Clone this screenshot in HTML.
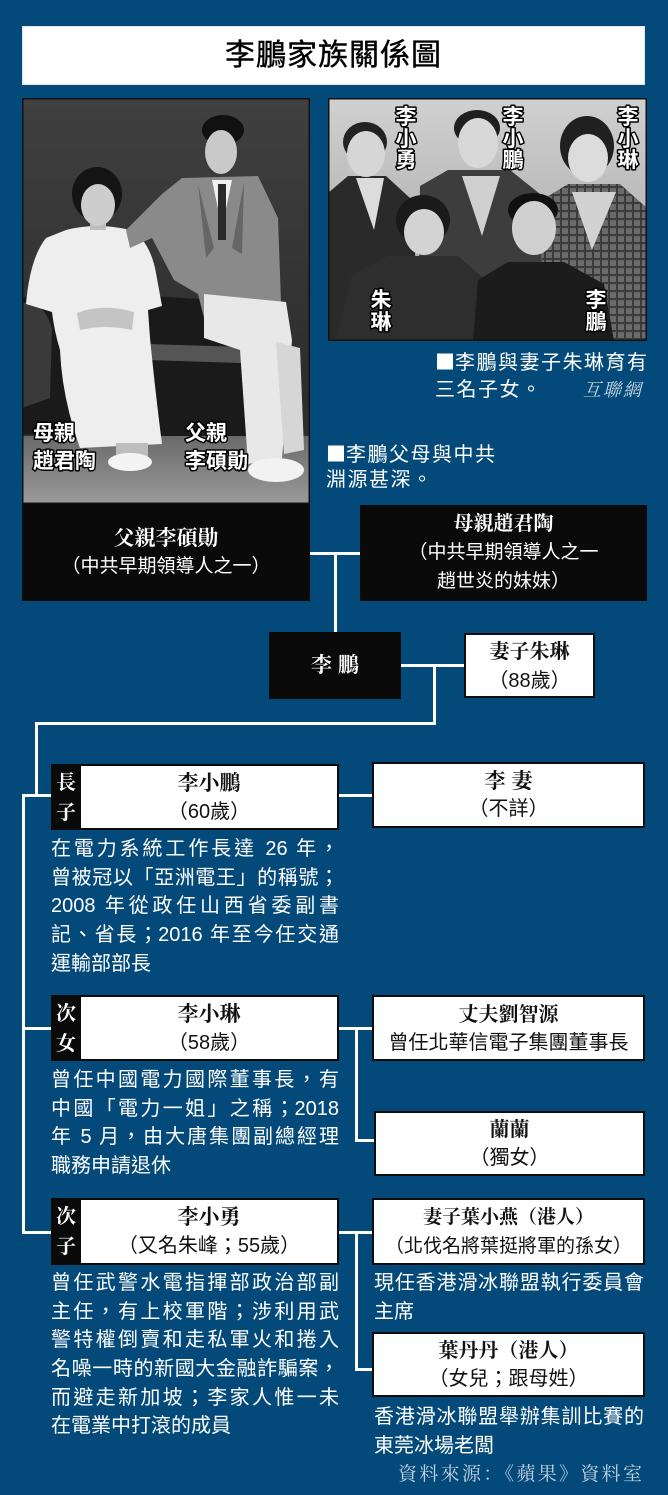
<!DOCTYPE html>
<html><head><meta charset="utf-8">
<style>
*{margin:0;padding:0;box-sizing:border-box;}
html,body{width:668px;height:1495px;background:#034a7b;overflow:hidden;}
#c{position:relative;width:668px;height:1495px;background:#034a7b;font-family:"Liberation Sans","Noto Sans CJK TC",sans-serif;}
.a{position:absolute;}
.ln{position:absolute;background:#fff;}
.sans{font-family:"Liberation Sans","Noto Sans CJK TC",sans-serif;}
.serif{font-family:"Liberation Serif","Noto Serif CJK SC",serif;font-weight:bold;}
.blk{position:absolute;background:#0a0a0a;}
.wbox{position:absolute;background:#fff;border:2px solid #0d0d0d;}
.t{position:absolute;left:0;right:0;text-align:center;white-space:nowrap;color:#111;}
.kid{position:absolute;background:#0a0a0a;}
.kid .inner{position:absolute;left:30px;top:2px;right:2px;bottom:2px;background:#fff;}
.kid .lab{position:absolute;left:0;width:30px;text-align:center;color:#fff;font-size:20px;line-height:22px;}
.desc{position:absolute;color:#fff;font-size:20px;line-height:28.7px;}
.desc div{text-align:justify;text-align-last:justify;height:28.7px;overflow:visible;}
.desc div.last{text-align:left;text-align-last:left;}
.cap{position:absolute;color:#fff;font-size:20px;line-height:28px;letter-spacing:1.5px;white-space:nowrap;}
.sq{font-family:"Noto Sans CJK TC",sans-serif;letter-spacing:0;}
</style></head><body><div id="c">

<div class="a" style="left:22px;top:26px;width:623px;height:59px;background:#fff;border:1px solid #dfe6ee;"></div>
<div class="a sans" style="left:22px;top:26px;width:623px;height:59px;line-height:59px;text-align:center;font-size:30px;color:#000;letter-spacing:1px;-webkit-text-stroke:0.4px #000;">李鵬家族關係圖</div>

<svg class="a" style="left:22px;top:98px;" width="288" height="406" viewBox="0 0 288 406">
<defs>
<linearGradient id="bgL" x1="0" y1="0" x2="0" y2="1"><stop offset="0" stop-color="#404040"/><stop offset="0.75" stop-color="#2c2c2c"/><stop offset="1" stop-color="#333"/></linearGradient>
<linearGradient id="flr" x1="0" y1="0" x2="0" y2="1"><stop offset="0" stop-color="#6a6a6a"/><stop offset="1" stop-color="#9a9a9a"/></linearGradient>
</defs>
<rect width="288" height="406" fill="url(#bgL)"/>
<rect x="0" y="338" width="288" height="68" fill="url(#flr)"/>
<path d="M0 200 Q40 186 95 196 L245 205 Q268 225 262 262 L252 338 L40 338 L0 336 Z" fill="#1a1a1a"/>
<path d="M125 246 L252 250 L250 266 L125 262 Z" fill="#555"/>
<path d="M0 205 Q20 200 30 230 L28 300 L0 310 Z" fill="#3a3a3a"/>
<path d="M44 132 Q75 124 108 132 Q128 142 134 175 L140 208 L126 212 L128 240 Q134 300 140 346 L58 350 Q40 300 38 252 Q32 232 30 214 L4 206 Q8 160 24 140 Z" fill="#eeeeee"/>
<path d="M55 215 Q80 205 112 214 L110 232 Q82 226 58 232 Z" fill="#c4c4c4"/>
<rect x="94" y="345" width="32" height="16" fill="#bdbdbd"/>
<ellipse cx="108" cy="364" rx="22" ry="9" fill="#f4f4f4"/>
<ellipse cx="75" cy="96" rx="25" ry="27" fill="#141414"/>
<rect x="68" y="118" width="16" height="14" fill="#bdbdbd"/>
<ellipse cx="76" cy="107" rx="17" ry="21" fill="#cdcdcd"/>
<path d="M160 80 L236 78 L256 120 L260 232 L240 242 L186 236 L176 196 L152 182 L130 140 L108 150 L104 132 L140 96 Z" fill="#8a8a8a"/>
<path d="M190 82 L200 130 L210 82 Z" fill="#f0f0f0"/>
<rect x="196" y="86" width="8" height="56" fill="#2a2a2a"/>
<path d="M176 86 L192 150 L184 160 Z" fill="#666"/>
<path d="M222 84 L210 150 L220 156 Z" fill="#666"/>
<path d="M182 196 L264 204 L270 242 L260 360 L226 366 L218 252 L182 240 Z" fill="#e8e8e8"/>
<path d="M254 244 L278 250 L282 352 L262 356 Z" fill="#d6d6d6"/>
<ellipse cx="254" cy="372" rx="28" ry="12" fill="#f2f2f2"/>
<ellipse cx="201" cy="32" rx="21" ry="15" fill="#111"/>
<ellipse cx="199" cy="54" rx="16" ry="22" fill="#c9c9c9"/>
<g font-family="Liberation Sans, Noto Sans CJK TC, sans-serif" font-size="21" font-weight="bold" fill="#fff" stroke="#000" stroke-width="3" style="paint-order:stroke" stroke-linejoin="round">
<text x="11" y="342">母親</text>
<text x="11" y="370">趙君陶</text>
<text x="163" y="342">父親</text>
<text x="163" y="370">李碩勛</text>
</g>
<rect x="0.5" y="0.5" width="287" height="405" fill="none" stroke="#111" stroke-width="2"/>
</svg>
<div class="blk" style="left:22px;top:504px;width:288px;height:97px;"></div>
<div class="a serif" style="left:22px;top:524px;width:288px;line-height:28px;text-align:center;font-size:21px;color:#fff;">父親李碩勛</div>
<div class="a sans" style="left:22px;top:553px;width:288px;line-height:28px;text-align:center;font-size:19px;color:#fff;">（中共早期領導人之一）</div>

<svg class="a" style="left:328px;top:98px;" width="319" height="243" viewBox="0 0 319 243">
<defs>
<linearGradient id="bgR" x1="0" y1="0" x2="0" y2="1"><stop offset="0" stop-color="#d0d0d0"/><stop offset="1" stop-color="#a0a0a0"/></linearGradient>
<pattern id="plaid" width="8" height="8" patternUnits="userSpaceOnUse"><rect width="8" height="8" fill="#6a6a6a"/><rect width="8" height="2" fill="#3a3a3a"/><rect width="2" height="8" fill="#3a3a3a"/></pattern>
</defs>
<rect width="319" height="243" fill="url(#bgR)"/>
<path d="M0 95 L20 78 L58 78 L82 100 L95 243 L0 243 Z" fill="#2a2a2a"/>
<path d="M28 80 L56 80 L46 132 Z" fill="#dcdcdc"/>
<ellipse cx="37" cy="44" rx="22" ry="20" fill="#222"/>
<ellipse cx="38" cy="56" rx="19" ry="23" fill="#d6d6d6"/>
<path d="M92 88 L120 72 L182 72 L212 96 L216 243 L90 243 Z" fill="#3d3d3d"/>
<path d="M134 78 L172 78 L154 138 Z" fill="#d0d0d0"/>
<ellipse cx="149" cy="30" rx="23" ry="18" fill="#1f1f1f"/>
<ellipse cx="150" cy="45" rx="20" ry="25" fill="#d8d8d8"/>
<path d="M214 102 L240 86 L292 86 L319 110 L319 243 L214 243 Z" fill="url(#plaid)"/>
<path d="M244 94 L288 94 L264 152 Z" fill="#d2d2d2"/>
<ellipse cx="259" cy="48" rx="27" ry="30" fill="#202020"/>
<ellipse cx="260" cy="60" rx="20" ry="24" fill="#dcdcdc"/>
<path d="M8 243 L24 176 L60 158 L130 158 L162 186 L168 243 Z" fill="#2e2e2e"/>
<ellipse cx="95" cy="122" rx="27" ry="25" fill="#1a1a1a"/>
<ellipse cx="96" cy="134" rx="20" ry="23" fill="#d3d3d3"/>
<path d="M145 243 L150 182 L180 164 L236 164 L276 186 L286 243 Z" fill="#1c1c1c"/>
<ellipse cx="205" cy="112" rx="25" ry="17" fill="#111"/>
<ellipse cx="206" cy="130" rx="22" ry="27" fill="#d0d0d0"/>
<g font-family="Liberation Sans, Noto Sans CJK TC, sans-serif" font-size="21" font-weight="bold" fill="#fff" stroke="#000" stroke-width="3" style="paint-order:stroke" stroke-linejoin="round" text-anchor="middle">
<text x="78" y="26">李</text><text x="78" y="48">小</text><text x="78" y="69">勇</text>
<text x="185" y="26">李</text><text x="185" y="48">小</text><text x="185" y="69">鵬</text>
<text x="300" y="26">李</text><text x="300" y="48">小</text><text x="300" y="69">琳</text>
<text x="53" y="209">朱</text><text x="53" y="231">琳</text>
<text x="268" y="209">李</text><text x="268" y="231">鵬</text>
</g>
<rect x="0.5" y="0.5" width="318" height="242" fill="none" stroke="#111" stroke-width="2"/>
</svg>

<div class="cap" style="left:435px;top:347px;"><span class="sq">■</span>李鵬與妻子朱琳育有</div>
<div class="cap" style="left:435px;top:376px;">三名子女。</div>
<div class="a" style="left:583px;top:377px;font-family:'Liberation Serif','Noto Serif CJK SC',serif;font-size:18px;line-height:26px;color:#c9d6e4;letter-spacing:2px;font-style:italic;">互聯網</div>
<div class="cap" style="left:326px;top:439px;"><span class="sq">■</span>李鵬父母與中共</div>
<div class="cap" style="left:326px;top:466px;">淵源甚深。</div>

<div class="blk" style="left:360px;top:505px;width:287px;height:96px;"></div>
<div class="a serif" style="left:360px;top:510px;width:287px;line-height:28px;text-align:center;font-size:20px;color:#fff;">母親趙君陶</div>
<div class="a sans" style="left:360px;top:539px;width:287px;line-height:28px;text-align:center;font-size:19px;color:#fff;">（中共早期領導人之一</div>
<div class="a sans" style="left:360px;top:568px;width:287px;line-height:28px;text-align:center;font-size:19px;color:#fff;">趙世炎的妹妹）</div>

<div class="ln" style="left:310px;top:552px;width:50px;height:3px;"></div>
<div class="ln" style="left:334px;top:552px;width:3px;height:80px;"></div>
<div class="ln" style="left:400px;top:664px;width:64px;height:3px;"></div>
<div class="ln" style="left:433px;top:664px;width:3px;height:61px;"></div>
<div class="ln" style="left:35px;top:722px;width:401px;height:3px;"></div>
<div class="ln" style="left:35px;top:722px;width:3px;height:75px;"></div>
<div class="ln" style="left:22px;top:794px;width:30px;height:3px;"></div>
<div class="ln" style="left:22px;top:794px;width:3px;height:440px;"></div>
<div class="ln" style="left:22px;top:1027px;width:30px;height:3px;"></div>
<div class="ln" style="left:22px;top:1231px;width:30px;height:3px;"></div>
<div class="ln" style="left:338px;top:794px;width:35px;height:3px;"></div>
<div class="ln" style="left:338px;top:1027px;width:35px;height:3px;"></div>
<div class="ln" style="left:355px;top:1027px;width:3px;height:115px;"></div>
<div class="ln" style="left:355px;top:1139px;width:20px;height:3px;"></div>
<div class="ln" style="left:338px;top:1231px;width:35px;height:3px;"></div>
<div class="ln" style="left:355px;top:1231px;width:3px;height:140px;"></div>
<div class="ln" style="left:355px;top:1368px;width:18px;height:3px;"></div>

<div class="blk" style="left:269px;top:632px;width:132px;height:67px;"></div>
<div class="a serif" style="left:269px;top:651px;width:132px;line-height:28px;text-align:center;font-size:21px;color:#fff;letter-spacing:6px;text-indent:6px;">李鵬</div>

<div class="wbox" style="left:464px;top:633px;width:131px;height:65px;">
<div class="t serif" style="top:3px;line-height:28px;font-size:20px;">妻子朱琳</div>
<div class="t sans" style="top:32px;line-height:28px;font-size:20px;">（88歲）</div>
</div>

<div class="kid" style="left:51px;top:764px;width:288px;height:66px;">
<div class="lab serif" style="top:8px;">長</div>
<div class="lab serif" style="top:38px;">子</div>
<div class="inner">
<div class="t serif" style="top:3px;line-height:28px;font-size:21px;">李小鵬</div>
<div class="t sans" style="top:32px;line-height:28px;font-size:20px;">（60歲）</div>
</div>
</div>
<div class="wbox" style="left:372px;top:762px;width:273px;height:66px;">
<div class="t serif" style="top:3px;line-height:28px;font-size:21px;letter-spacing:6px;text-indent:6px;">李妻</div>
<div class="t sans" style="top:31px;line-height:28px;font-size:20px;">（不詳）</div>
</div>
<div class="desc" style="left:51px;top:835px;width:288px;">
<div>在電力系統工作長達 26 年，</div>
<div>曾被冠以「亞洲電王」的稱號；</div>
<div>2008 年從政任山西省委副書</div>
<div>記、省長；2016 年至今任交通</div>
<div class="last">運輸部部長</div>
</div>

<div class="kid" style="left:51px;top:995px;width:288px;height:66px;">
<div class="lab serif" style="top:8px;">次</div>
<div class="lab serif" style="top:38px;">女</div>
<div class="inner">
<div class="t serif" style="top:3px;line-height:28px;font-size:21px;">李小琳</div>
<div class="t sans" style="top:32px;line-height:28px;font-size:20px;">（58歲）</div>
</div>
</div>
<div class="wbox" style="left:372px;top:995px;width:273px;height:66px;">
<div class="t serif" style="top:4px;line-height:28px;font-size:20px;">丈夫劉智源</div>
<div class="t sans" style="top:32px;line-height:28px;font-size:20px;">曾任北華信電子集團董事長</div>
</div>
<div class="wbox" style="left:374px;top:1111px;width:271px;height:65px;">
<div class="t serif" style="top:3px;line-height:28px;font-size:20px;">蘭蘭</div>
<div class="t sans" style="top:31px;line-height:28px;font-size:20px;">（獨女）</div>
</div>
<div class="desc" style="left:51px;top:1066px;width:288px;">
<div>曾任中國電力國際董事長，有</div>
<div>中國「電力一姐」之稱；2018</div>
<div>年 5 月，由大唐集團副總經理</div>
<div class="last">職務申請退休</div>
</div>

<div class="kid" style="left:51px;top:1198px;width:288px;height:67px;">
<div class="lab serif" style="top:8px;">次</div>
<div class="lab serif" style="top:38px;">子</div>
<div class="inner">
<div class="t serif" style="top:3px;line-height:28px;font-size:21px;">李小勇</div>
<div class="t sans" style="top:32px;line-height:28px;font-size:20px;">（又名朱峰；55歲）</div>
</div>
</div>
<div class="wbox" style="left:372px;top:1198px;width:273px;height:67px;">
<div class="t serif" style="top:4px;line-height:28px;font-size:19px;">妻子葉小燕（港人）</div>
<div class="t sans" style="top:33px;line-height:28px;font-size:19px;">（北伐名將葉挺將軍的孫女）</div>
</div>
<div class="desc" style="left:374px;top:1269px;width:270px;">
<div>現任香港滑冰聯盟執行委員會</div>
<div class="last">主席</div>
</div>
<div class="wbox" style="left:372px;top:1332px;width:273px;height:65px;">
<div class="t serif" style="top:3px;line-height:28px;font-size:20px;">葉丹丹（港人）</div>
<div class="t sans" style="top:31px;line-height:28px;font-size:20px;">（女兒；跟母姓）</div>
</div>
<div class="desc" style="left:374px;top:1403px;width:270px;">
<div>香港滑冰聯盟舉辦集訓比賽的</div>
<div class="last">東莞冰場老闆</div>
</div>
<div class="desc" style="left:51px;top:1269px;width:288px;">
<div>曾任武警水電指揮部政治部副</div>
<div>主任，有上校軍階；涉利用武</div>
<div>警特權倒賣和走私軍火和捲入</div>
<div>名噪一時的新國大金融詐騙案，</div>
<div>而避走新加坡；李家人惟一未</div>
<div class="last">在電業中打滾的成員</div>
</div>

<div class="a" style="left:398px;top:1462px;width:244px;line-height:26px;font-family:'Liberation Serif','Noto Serif CJK SC',serif;font-size:19px;color:#c3d0de;text-align:justify;text-align-last:justify;">資料來源：《蘋果》資料室</div>

</div></body></html>
